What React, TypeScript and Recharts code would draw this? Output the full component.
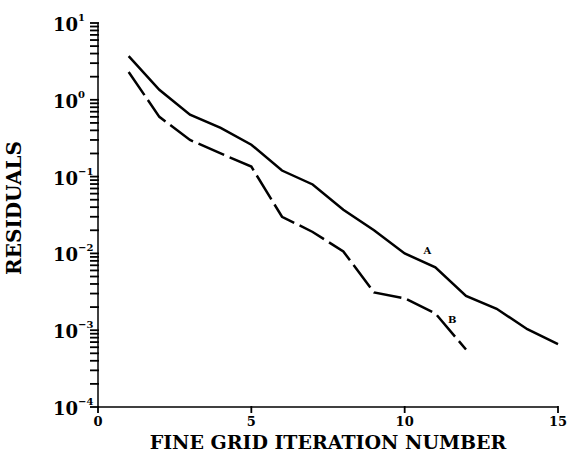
import { LabelList, Line, LineChart, XAxis, YAxis } from "recharts";

const ITERATIONS = [1, 2, 3, 4, 5, 6, 7, 8, 9, 10, 11, 12, 13, 14, 15];
const RESIDUAL_A = [3.7, 1.35, 0.64, 0.43, 0.26, 0.12, 0.079, 0.037, 0.02, 0.01, 0.0066, 0.0028, 0.0019, 0.00103, 0.00066];
const RESIDUAL_B = [2.3, 0.6, 0.3, 0.2, 0.135, 0.03, 0.019, 0.0106, 0.0031, 0.0026, 0.00166, 0.00056, null, null, null];
const X_TICKS = [0, 5, 10, 15];
const DECADES = [1e-4, 1e-3, 1e-2, 1e-1, 1, 10];
const EXPONENTS = ["\u22124", "\u22123", "\u22122", "\u22121", "0", "1"];

const FONT = "'DejaVu Serif', serif";

const data = ITERATIONS.map((it, i) => ({ it, a: RESIDUAL_A[i], b: RESIDUAL_B[i] }));

// major ticks at each decade, minor at 2..9 times the decade
const yTicks: number[] = [];
DECADES.forEach((d, i) => {
  yTicks.push(d);
  if (i < DECADES.length - 1) for (let m = 2; m <= 9; m++) yTicks.push(d * m);
});

function YTick(props: any) {
  const { x, y, payload } = props;
  const cx = Number(x);
  const cy = Number(y);
  const idx = DECADES.findIndex((d) => Math.abs(payload.value - d) < d * 1e-6);
  const major = idx >= 0;
  return (
    <g>
      <rect x={cx - 8} y={cy - 0.9} width={9} height={1.8} fill="#000" />
      {major && (
        <text x={cx - 45} y={cy + 8} fontFamily={FONT} fontWeight="bold" fill="#000" stroke="none">
          <tspan fontSize={18}>10</tspan>
          <tspan fontSize={10} dy={-10}>{EXPONENTS[idx]}</tspan>
        </text>
      )}
    </g>
  );
}

function XTick(props: any) {
  const { x, y, payload } = props;
  const cx = Number(x);
  const cy = Number(y);
  return (
    <g>
      <rect x={cx - 0.9} y={cy - 1} width={1.8} height={7} fill="#000" />
      <text x={cx} y={cy + 19} textAnchor="middle" fontFamily={FONT} fontWeight="bold" fontSize={13} fill="#000">
        {payload.value}
      </text>
    </g>
  );
}

function CurveTag(text: string, at: number, dx: number, dy: number) {
  return (p: any) =>
    p.index === at ? (
      <text x={p.x + dx} y={p.y + dy} fontFamily={FONT} fontWeight="bold" fontSize={10} fill="#000" textAnchor="middle">
        {text}
      </text>
    ) : null;
}

export default function App() {
  return (
    <div style={{ position: "absolute", left: 0, top: 0, background: "#fff" }}>
      <LineChart width={569} height={460} data={data} margin={{ top: 23, right: 11, bottom: 0, left: 0 }}>
        <XAxis
          dataKey="it"
          type="number"
          domain={[0, 15]}
          ticks={X_TICKS}
          height={53}
          stroke="#000"
          strokeWidth={1.5}
          tickSize={0}
          tickMargin={0}
          tickLine={false}
          tick={<XTick />}
          label={{
            value: "FINE GRID ITERATION NUMBER",
            position: "insideBottom",
            offset: 11,
            fill: "#000",
            fontSize: 19,
            fontWeight: "bold",
            fontFamily: FONT,
          }}
        />
        <YAxis
          scale="log"
          domain={[1e-4, 10]}
          ticks={yTicks}
          interval={0}
          width={98}
          stroke="#000"
          strokeWidth={1.5}
          tickSize={0}
          tickMargin={0}
          tickLine={false}
          tick={<YTick />}
          allowDataOverflow
          label={{
            value: "RESIDUALS",
            angle: -90,
            position: "insideLeft",
            offset: 14,
            dy: -7,
            fill: "#000",
            fontSize: 20,
            fontWeight: "bold",
            fontFamily: FONT,
            style: { textAnchor: "middle" },
          }}
        />
        <Line dataKey="a" stroke="#000" strokeWidth={2.5} dot={false} isAnimationActive={false}>
          <LabelList dataKey="a" content={CurveTag("A", 10, -8, -13)} />
        </Line>
        <Line
          dataKey="b"
          stroke="#000"
          strokeWidth={2.5}
          strokeDasharray="28 6"
          dot={false}
          connectNulls={false}
          isAnimationActive={false}
        >
          <LabelList dataKey="b" content={CurveTag("B", 10, 17, 10)} />
        </Line>
      </LineChart>
    </div>
  );
}
